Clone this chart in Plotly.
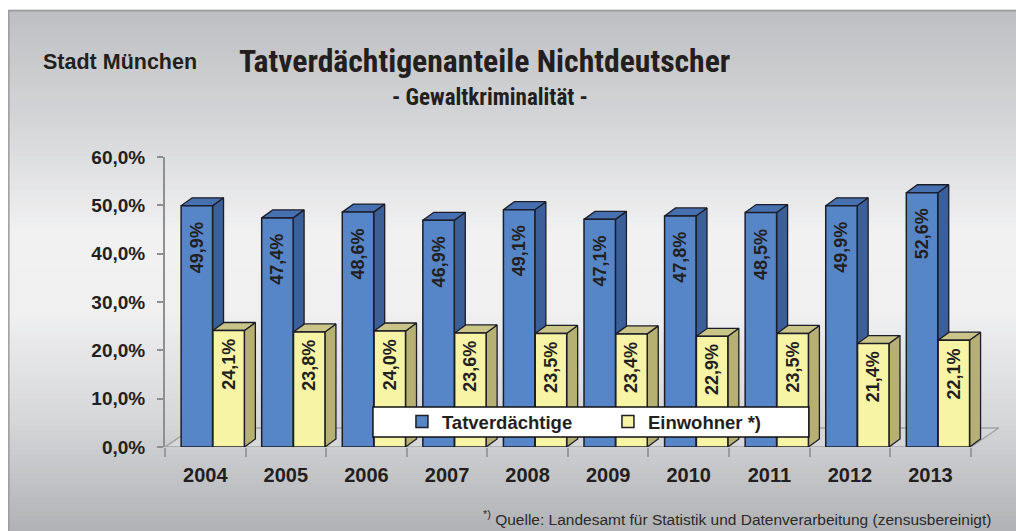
import plotly.graph_objects as go

# ---------------- data ----------------
years = ["2004", "2005", "2006", "2007", "2008", "2009", "2010", "2011", "2012", "2013"]
tatverdaechtige = [49.9, 47.4, 48.6, 46.9, 49.1, 47.1, 47.8, 48.5, 49.9, 52.6]
einwohner = [24.1, 23.8, 24.0, 23.6, 23.5, 23.4, 22.9, 23.5, 21.4, 22.1]
y_tickvals = [0, 10, 20, 30, 40, 50, 60]
y_ticktext = ["0,0%", "10,0%", "20,0%", "30,0%", "40,0%", "50,0%", "60,0%"]
series_names = ["Tatverdächtige", "Einwohner *)"]

# ---------------- geometry / style ----------------
OFS = 0                      # body margin removed via post_script
W, H = 1016 - OFS, 531 - OFS
ML, MT, MB = 165 - OFS, 157 - OFS, 84
PW = 1003.2 - 165
MR = W - ML - PW
PH = H - MT - MB
XR = [-0.5, 9.9]
YR = [0, 60]
ux = PW / (XR[1] - XR[0])
uy = PH / (YR[1] - YR[0])

DX, DY = 11 / ux, 8 / uy          # bar depth
FDX, FDY = 28 / ux, 19 / uy       # floor depth
BAR_W = 0.39
OFF_BLUE = -0.30
OFF_YEL = 0.095

BLUE_FRONT, BLUE_SIDE, BLUE_TOP = "#5686c8", "#3b5f98", "#4770b0"
YEL_FRONT, YEL_SIDE, YEL_TOP = "#f8f4a6", "#b6b172", "#c9c487"
EDGE = "#1d1d28"
TXT = "#231f20"
SANS = "Liberation Sans, Arial, sans-serif"
NARROW = "Roboto Condensed, Liberation Sans Narrow, Arial Narrow, Liberation Sans, sans-serif"


def pxx(px):
    return (px - OFS - ML) / PW


def pxy(py):
    return (H - MB - (py - OFS)) / PH


def faces(values, offset):
    sx, sy, tx, ty = [], [], [], []
    for i, v in enumerate(values):
        x0 = i + offset
        x1 = x0 + BAR_W
        sx += [x1, x1 + DX, x1 + DX, x1, x1, None]
        sy += [0, DY, v + DY, v, 0, None]
        tx += [x0, x0 + DX, x1 + DX, x1, x0, None]
        ty += [v, v + DY, v + DY, v, v, None]
    return sx, sy, tx, ty


fig = go.Figure()

# floor
n = len(years)
fig.add_trace(go.Scatter(
    x=[-0.5, n - 0.5, n - 0.5 + FDX, -0.5 + FDX, -0.5],
    y=[0, 0, FDY, FDY, 0],
    mode="lines", fill="toself", fillcolor="#d6d7d9",
    line=dict(color="#a3a4a6", width=1.5), showlegend=False, hoverinfo="skip",
    xaxis="x", yaxis="y"))

# 3D side/top faces
bsx, bsy, btx, bty = faces(tatverdaechtige, OFF_BLUE)
ysx, ysy, ytx, yty = faces(einwohner, OFF_YEL)
for fx, fy, col in [(bsx, bsy, BLUE_SIDE), (btx, bty, BLUE_TOP),
                    (ysx, ysy, YEL_SIDE), (ytx, yty, YEL_TOP)]:
    fig.add_trace(go.Scatter(
        x=fx, y=fy, mode="lines", fill="toself", fillcolor=col,
        line=dict(color=EDGE, width=1.3), showlegend=False, hoverinfo="skip",
        xaxis="x", yaxis="y"))

# front faces (bars)
xs = list(range(n))
fig.add_trace(go.Bar(
    x=xs, y=tatverdaechtige, width=BAR_W, offset=OFF_BLUE, name=series_names[0],
    marker=dict(color=BLUE_FRONT, line=dict(color=EDGE, width=1.5)),
    xaxis="x2", yaxis="y2"))
fig.add_trace(go.Bar(
    x=xs, y=einwohner, width=BAR_W, offset=OFF_YEL, name=series_names[1],
    marker=dict(color=YEL_FRONT, line=dict(color=EDGE, width=1.5)),
    xaxis="x2", yaxis="y2"))

# ---------------- background gradient ----------------
stops = [(10, (190, 191, 194)), (120, (212, 213, 215)), (235, (241, 241, 242)),
         (310, (240, 240, 241)), (420, (214, 215, 217)), (531, (176, 178, 181))]


def grad(py):
    for (a, ca), (b, cb) in zip(stops[:-1], stops[1:]):
        if a <= py <= b:
            t = (py - a) / (b - a)
            return tuple(round(ca[k] + (cb[k] - ca[k]) * t) for k in range(3))
    return stops[-1][1]


shapes = []
NS = 110
top, bot = 10, 531
for k in range(NS):
    y0 = top + (bot - top) * k / NS
    y1 = top + (bot - top) * (k + 1) / NS
    c = grad((y0 + y1) / 2)
    shapes.append(dict(type="rect", xref="paper", yref="paper", layer="below",
                       x0=pxx(8), x1=pxx(1020), y0=pxy(y0 - 0.6), y1=pxy(y1 + 0.6),
                       fillcolor="rgb(%d,%d,%d)" % c, line=dict(width=0)))
shapes.append(dict(type="rect", xref="paper", yref="paper", layer="below",
                   x0=pxx(8.8), x1=pxx(1025), y0=pxy(10.8), y1=pxy(540),
                   line=dict(color="#9b9c9e", width=1.5)))
# legend box
shapes.append(dict(type="rect", xref="paper", yref="paper", layer="above",
                   x0=pxx(373), x1=pxx(809), y0=pxy(407), y1=pxy(437),
                   fillcolor="white", line=dict(color="#111111", width=1.5)))

# ---------------- annotations ----------------
ann = []
for i, v in enumerate(tatverdaechtige):
    ann.append(dict(x=i + OFF_BLUE + BAR_W / 2, y=v, xref="x", yref="y",
                    text=("%.1f" % v).replace(".", ",") + "%", showarrow=False,
                    textangle=-90, yanchor="top", xanchor="center", yshift=-14,
                    font=dict(family=SANS, size=18, color=TXT, weight="bold")))
for i, v in enumerate(einwohner):
    ann.append(dict(x=i + OFF_YEL + BAR_W / 2, y=v, xref="x", yref="y",
                    text=("%.1f" % v).replace(".", ",") + "%", showarrow=False,
                    textangle=-90, yanchor="top", xanchor="center", yshift=-6,
                    font=dict(family=SANS, size=18, color=TXT, weight="bold")))

ann.append(dict(x=pxx(485), y=pxy(62), xref="paper", yref="paper", showarrow=False,
                text="Tatverdächtigenanteile Nichtdeutscher", xanchor="center", yanchor="middle",
                font=dict(family=NARROW, size=31.7, color=TXT, weight="bold")))
ann.append(dict(x=pxx(490), y=pxy(97), xref="paper", yref="paper", showarrow=False,
                text="- Gewaltkriminalität -", xanchor="center", yanchor="middle",
                font=dict(family=NARROW, size=23, color=TXT, weight="bold")))
ann.append(dict(x=pxx(119.5), y=pxy(62), xref="paper", yref="paper", showarrow=False,
                text="Stadt München", xanchor="center", yanchor="middle",
                font=dict(family=SANS, size=21.5, color=TXT, weight="bold")))
ann.append(dict(x=pxx(993), y=pxy(518), xref="paper", yref="paper", showarrow=False,
                text="<sup>*)</sup> Quelle: Landesamt für Statistik und Datenverarbeitung (zensusbereinigt)",
                xanchor="right", yanchor="middle",
                font=dict(family=SANS, size=15.5, color="#2a2a2a")))

fig.update_layout(
    width=W, height=H,
    margin=dict(l=ML, r=MR, t=MT, b=MB, pad=0),
    paper_bgcolor="white", plot_bgcolor="rgba(0,0,0,0)",
    barmode="overlay",
    showlegend=True,
    legend=dict(orientation="h", x=pxx(402), y=pxy(422), xanchor="left", yanchor="middle",
                bgcolor="rgba(0,0,0,0)", borderwidth=0, entrywidth=161,
                font=dict(family=SANS, size=18.5, color=TXT, weight="bold"),
                traceorder="normal"),
    xaxis=dict(range=XR, tickvals=xs, ticktext=years, ticks="", showgrid=False,
               zeroline=False, showline=False, ticklabelstandoff=14,
               tickfont=dict(family=SANS, size=20, color=TXT, weight="bold")),
    yaxis=dict(range=YR, tickvals=y_tickvals, ticktext=y_ticktext, ticks="outside",
               ticklen=6, tickwidth=2, tickcolor="#8e8f91", showline=True,
               linecolor="#8e8f91", linewidth=2, showgrid=False, zeroline=False,
               ticklabelstandoff=8,
               tickfont=dict(family=SANS, size=19, color=TXT, weight="bold")),
    xaxis2=dict(range=XR, overlaying="x", anchor="y2", side="bottom",
                tickvals=[i - 0.5 for i in range(n + 1)], ticks="outside", ticklen=9,
                tickwidth=1.5, tickcolor="#9a9b9d", showticklabels=False,
                showgrid=False, zeroline=False, showline=False),
    yaxis2=dict(range=YR, overlaying="y", anchor="x2", visible=False),
    shapes=shapes,
    annotations=ann,
)

fig.write_html("out.html", config={"displayModeBar": False},
               post_script="document.body.style.margin='0';document.body.style.overflow='hidden';")
